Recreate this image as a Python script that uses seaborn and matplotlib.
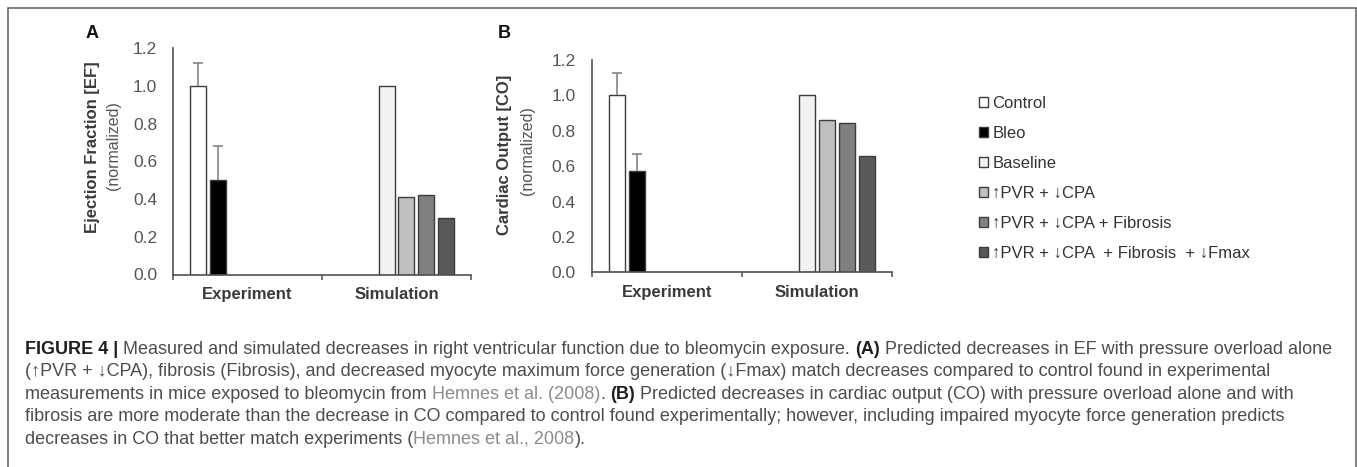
import numpy as np
import pandas as pd
import matplotlib
matplotlib.use('Agg')
import matplotlib.pyplot as plt
from matplotlib.colors import to_hex
from matplotlib.patches import Patch, Rectangle
from matplotlib.ticker import FixedLocator, FixedFormatter, NullFormatter, FormatStrFormatter
import seaborn as sns

# ---- data ----
groups = ['Experiment', 'Simulation']
conditions = ['Control', 'Bleo', 'Baseline', '↑PVR + ↓CPA',
              '↑PVR + ↓CPA + Fibrosis', '↑PVR + ↓CPA  + Fibrosis  + ↓Fmax']
bar_colors = ['#ffffff', '#000000', '#f2f2f2', '#bfbfbf', '#808080', '#595959']

# A: ejection fraction (normalized)
ef_experiment = [1.00, 0.50]            # Control, Bleo
ef_experiment_err = [0.12, 0.18]
ef_simulation = [1.00, 0.41, 0.42, 0.30]  # Baseline, PVR/CPA, +Fibrosis, +Fmax

# B: cardiac output (normalized)
co_experiment = [1.00, 0.57]
co_experiment_err = [0.125, 0.10]
co_simulation = [1.00, 0.86, 0.845, 0.66]

yticks = [0.0, 0.2, 0.4, 0.6, 0.8, 1.0, 1.2]

caption = [
    [('FIGURE 4 |', 'b'), (' Measured and simulated decreases in right ventricular function due to bleomycin exposure.', 'n'),
     (' (A)', 'b'), (' Predicted decreases in EF with pressure overload alone', 'n')],
    [('(↑PVR + ↓CPA), fibrosis (Fibrosis), and decreased myocyte maximum force generation (↓Fmax) match decreases compared to control found in experimental', 'n')],
    [('measurements in mice exposed to bleomycin from', 'n'), (' Hemnes et al. (2008)', 'l'), ('.', 'n'),
     (' (B)', 'b'), (' Predicted decreases in cardiac output (CO) with pressure overload alone and with', 'n')],
    [('fibrosis are more moderate than the decrease in CO compared to control found experimentally; however, including impaired myocyte force generation predicts', 'n')],
    [('decreases in CO that better match experiments (', 'n'), ('Hemnes et al., 2008', 'l'), (').', 'n')],
]

sns.set_style('white')
FONT = ['Liberation Sans', 'DejaVu Sans']
plt.rcParams['font.family'] = FONT

W, H = 1357, 467
LINE = '#505050'
EDGE = '#3c3c3c'

fig = plt.figure(figsize=(W / 100, H / 100), dpi=100)
fig.add_artist(Rectangle((8 / W, -2 / H), 1348 / W, (H - 8 + 2) / H, transform=fig.transFigure,
                         fill=False, edgecolor='#6a6a6a', linewidth=1.2))

palette = dict(zip(conditions, bar_colors))


def make_df(exp_vals, sim_vals):
    rows = [('Experiment', c, v) for c, v in zip(conditions[:2], exp_vals)]
    rows += [('Simulation', c, v) for c, v in zip(conditions[2:], sim_vals)]
    return pd.DataFrame(rows, columns=['group', 'condition', 'value'])


def panel(rect, exp_vals, exp_err, sim_vals):
    ax = fig.add_axes(rect)
    df = make_df(exp_vals, sim_vals)
    sns.barplot(data=df, x='group', y='value', hue='condition', order=groups, hue_order=conditions,
                palette=palette, saturation=1, width=0.8, gap=0.2, errorbar=None,
                edgecolor=EDGE, linewidth=1.0, legend=False, ax=ax)
    # experimental bars get an upper error bar (matched by their fill colour)
    err_map = {to_hex(bar_colors[i]): exp_err[i] for i in range(2)}
    for p in list(ax.patches):
        key = to_hex(p.get_facecolor())
        if key in err_map and p.get_height() > 0:
            x = p.get_x() + p.get_width() / 2
            h = p.get_height()
            _, caps, _ = ax.errorbar([x], [h], yerr=[[0], [err_map[key]]], fmt='none',
                                     ecolor='#7a7a7a', elinewidth=1.1, capsize=3.5, capthick=1.1, zorder=3)
            caps[0].set_visible(False)
    ax.set_xlim(-0.5, len(groups) - 0.5)
    ax.set_ylim(0, 1.2)
    ax.set_yticks(yticks)
    ax.yaxis.set_major_formatter(FormatStrFormatter('%.1f'))
    ax.xaxis.set_major_locator(FixedLocator([-0.5, 0.5, 1.5]))
    ax.xaxis.set_major_formatter(NullFormatter())
    ax.xaxis.set_minor_locator(FixedLocator([0, 1]))
    ax.xaxis.set_minor_formatter(FixedFormatter(groups))
    ax.set_xlabel('')
    ax.set_ylabel('')
    sns.despine(ax=ax)
    for s in ['left', 'bottom']:
        ax.spines[s].set_color(LINE)
        ax.spines[s].set_linewidth(1.2)
    ax.tick_params(axis='y', length=3.5, width=1.1, color=LINE, labelcolor='#555555', labelsize=12.5, pad=8)
    ax.tick_params(axis='x', which='major', length=3.5, width=1.1, color=LINE, bottom=True)
    ax.tick_params(axis='x', which='minor', length=0, pad=9, labelsize=12, labelcolor='#3a3a3a', bottom=True)
    for t in ax.xaxis.get_minorticklabels():
        t.set_fontweight('bold')
    ax.patch.set_alpha(0)
    return ax


axA = panel([173 / W, 1 - 274.5 / H, 298 / W, 226.5 / H], ef_experiment, ef_experiment_err, ef_simulation)
axB = panel([591.7 / W, 1 - 272.3 / H, 300.3 / W, 212.3 / H], co_experiment, co_experiment_err, co_simulation)

# panel letters and y labels
fig.text(92 / W, 1 - 34 / H, 'A', fontsize=13, fontweight='bold', ha='center', va='center', color='#111111')
fig.text(504 / W, 1 - 34 / H, 'B', fontsize=13, fontweight='bold', ha='center', va='center', color='#111111')
fig.text(93 / W, 1 - 147.5 / H, 'Ejection Fraction [EF]', rotation=90, fontsize=12, fontweight='bold',
         ha='center', va='center', color='#3a3a3a')
fig.text(113 / W, 1 - 146 / H, '(normalized)', rotation=90, fontsize=11.5, ha='center', va='center', color='#555555')
fig.text(505 / W, 1 - 155 / H, 'Cardiac Output [CO]', rotation=90, fontsize=12, fontweight='bold',
         ha='center', va='center', color='#3a3a3a')
fig.text(527 / W, 1 - 151 / H, '(normalized)', rotation=90, fontsize=11.5, ha='center', va='center', color='#555555')

# legend
handles = [Patch(facecolor=c, edgecolor=EDGE, linewidth=1.0) for c in bar_colors]
fig.legend(handles, conditions, loc='upper left', bbox_to_anchor=(979 / W, 1 - 96 / H), frameon=False,
           borderpad=0, borderaxespad=0, handlelength=0.55, handleheight=0.55, handletextpad=0.25,
           labelspacing=0.9, fontsize=12, labelcolor='#333333')

# caption, drawn piece by piece so bold / link parts sit inline
r = fig.canvas.get_renderer()
styles = {'n': dict(color='#4d4d4d'), 'b': dict(color='#1e1e1e', fontweight='bold'), 'l': dict(color='#8c8c8c')}


def text_w(s, size, **kw):
    t = fig.text(0, 0, s, fontsize=size, **kw)
    w = t.get_window_extent(renderer=r).width
    t.remove()
    return w


# pick a size so the first line spans the same width as in the original
base = 12
w1 = 0
for s, st in caption[0]:
    w1 += text_w(s.strip(), base, **styles[st]) + (text_w('a a', base) - text_w('aa', base)) * s.startswith(' ')
cap_size = base * 1305 / w1
space_w = text_w('a a', cap_size) - text_w('aa', cap_size)

for i, line in enumerate(caption):
    x = 25
    y = 349 + i * 22.6
    for s, st in line:
        if s.startswith(' '):
            x += space_w
        t = fig.text(x / W, 1 - y / H, s.strip(), fontsize=cap_size, va='center', ha='left', **styles[st])
        x += t.get_window_extent(renderer=r).width

fig.savefig('out.png', dpi=100)
